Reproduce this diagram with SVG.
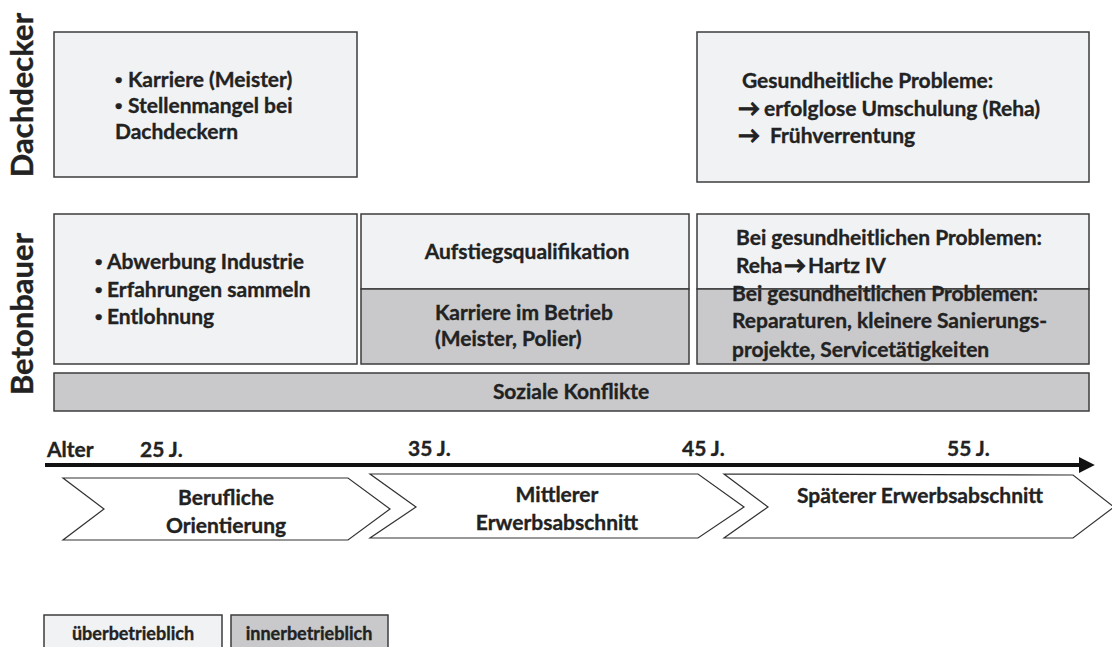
<svg xmlns="http://www.w3.org/2000/svg" width="1112" height="647" viewBox="0 0 1112 647">
<defs>
<style>
.t{font-family:Lato,"Liberation Sans","DejaVu Sans",sans-serif;font-weight:bold;font-size:21px;fill:#222;stroke:#222;stroke-width:0.35}
.c{text-anchor:middle}
.lab{font-size:31px}
.leg{font-size:18px}
.b{font-family:"Liberation Sans",sans-serif}
.ar{font-size:22px;stroke-width:0.9}
.lt{fill:#f1f2f4;stroke:#3c3c3c;stroke-width:1.5}
.dk{fill:#c9c9cb;stroke:#3c3c3c;stroke-width:1.5}
.chev{fill:#fff;stroke:#333;stroke-width:1.2}
</style>
<marker id="ah" viewBox="0 0 10 10" refX="2" refY="5" markerWidth="4" markerHeight="4" orient="auto" markerUnits="strokeWidth">
<path d="M0,0 L10,5 L0,10 z" fill="#111"/>
</marker>
</defs>
<rect width="1112" height="647" fill="#fff"/>

<g id="row-labels">
<text class="t lab c" transform="translate(33,95) rotate(-90)">Dachdecker</text>
<text class="t lab c" transform="translate(33,314) rotate(-90)">Betonbauer</text>
</g>

<g id="dach-early">
<rect class="lt" x="54" y="32" width="303" height="145"/>
<text class="t" x="115" y="87"><tspan class="b">•</tspan><tspan x="128">Karriere (Meister)</tspan></text>
<text class="t" x="115" y="113"><tspan class="b">•</tspan><tspan x="128">Stellenmangel bei</tspan></text>
<text class="t" x="115" y="139">Dachdeckern</text>
</g>

<g id="dach-late">
<rect class="lt" x="697" y="32" width="392" height="150"/>
<text class="t" x="742" y="88">Gesundheitliche Probleme:</text>
<text class="t" x="738" y="116"><tspan class="ar">→</tspan><tspan x="764">erfolglose Umschulung (Reha)</tspan></text>
<text class="t" x="738" y="143"><tspan class="ar">→</tspan><tspan x="770">Frühverrentung</tspan></text>
</g>

<g id="beton-early">
<rect class="lt" x="54" y="214" width="303" height="150"/>
<text class="t" x="95" y="269"><tspan class="b">•</tspan><tspan x="107">Abwerbung Industrie</tspan></text>
<text class="t" x="95" y="297"><tspan class="b">•</tspan><tspan x="107">Erfahrungen sammeln</tspan></text>
<text class="t" x="95" y="324"><tspan class="b">•</tspan><tspan x="107">Entlohnung</tspan></text>
</g>

<g id="beton-mid">
<rect class="lt" x="361" y="214" width="328" height="75"/>
<rect class="dk" x="361" y="289" width="328" height="75"/>
<text class="t c" x="527" y="259">Aufstiegsqualifikation</text>
<text class="t" x="435" y="320">Karriere im Betrieb</text>
<text class="t" x="435" y="346">(Meister, Polier)</text>
</g>

<g id="beton-late">
<rect class="lt" x="697" y="214" width="392" height="75"/>
<rect class="dk" x="697" y="289" width="392" height="75"/>
<text class="t" x="736" y="245">Bei gesundheitlichen Problemen:</text>
<text class="t" x="736" y="273">Reha<tspan class="ar" x="784">→</tspan><tspan x="808">Hartz IV</tspan></text>
<text class="t" x="732" y="301">Bei gesundheitlichen Problemen:</text>
<text class="t" x="732" y="328">Reparaturen, kleinere Sanierungs-</text>
<text class="t" x="732" y="357">projekte, Servicetätigkeiten</text>
</g>

<g id="soziale-konflikte">
<rect class="dk" x="54" y="373" width="1035" height="38"/>
<text class="t c" x="571" y="399">Soziale Konflikte</text>
</g>

<g id="connectors">
<line x1="45" y1="465" x2="1082" y2="465" stroke="#111" stroke-width="4" marker-end="url(#ah)"/>
</g>

<g id="axis-labels">
<text class="t" x="47" y="457">Alter</text>
<text class="t" x="140" y="457">25 J.</text>
<text class="t" x="408" y="456">35 J.</text>
<text class="t" x="682" y="456">45 J.</text>
<text class="t" x="947" y="456">55 J.</text>
</g>

<g id="phase-1">
<polygon class="chev" points="63,478 348,478 390,509 348,540 63,540 104,509"/>
<text class="t c" x="226" y="505">Berufliche</text>
<text class="t c" x="226" y="533">Orientierung</text>
</g>

<g id="phase-2">
<polygon class="chev" points="370,474 698,474 744,507 698,538 370,538 416,507"/>
<text class="t c" x="557" y="502">Mittlerer</text>
<text class="t c" x="557" y="530">Erwerbsabschnitt</text>
</g>

<g id="phase-3">
<polygon class="chev" points="724,474 1073,475 1114,507 1073,538 724,538 768,507"/>
<text class="t c" x="920" y="503">Späterer Erwerbsabschnitt</text>
</g>

<g id="legend-ueber">
<rect class="lt" x="44" y="615" width="178" height="40"/>
<text class="t leg c" x="133" y="640">überbetrieblich</text>
</g>

<g id="legend-inner">
<rect class="dk" x="231" y="615" width="157" height="40"/>
<text class="t leg c" x="309" y="640">innerbetrieblich</text>
</g>
</svg>
